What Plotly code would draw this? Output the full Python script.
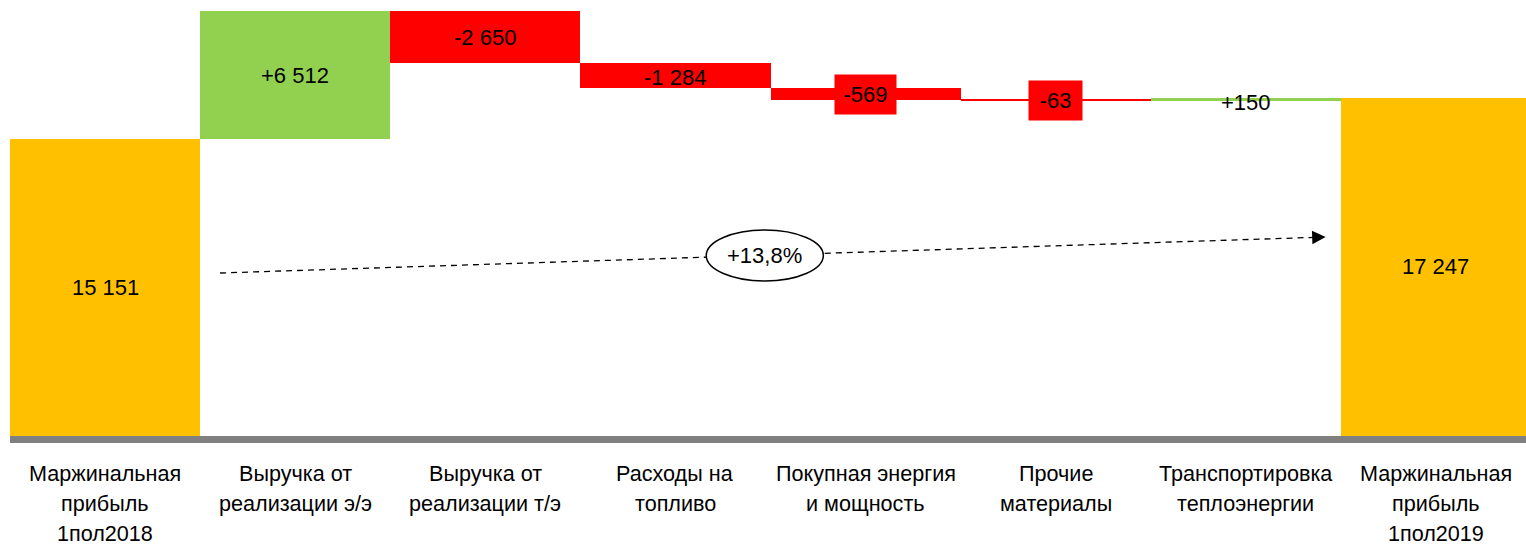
import plotly.graph_objects as go

categories = [
    ["Маржинальная", "прибыль", "1пол2018"],
    ["Выручка от", "реализации э/э"],
    ["Выручка от", "реализации т/э"],
    ["Расходы на", "топливо"],
    ["Покупная энергия", "и мощность"],
    ["Прочие", "материалы"],
    ["Транспортировка", "теплоэнергии"],
    ["Маржинальная", "прибыль", "1пол2019"],
]
values = [15151, 6512, -2650, -1284, -569, -63, 150, 17247]
labels = ["15 151", "+6 512", "-2 650", "-1 284", "-569", "-63", "+150", "17 247"]
is_total = [True, False, False, False, False, False, False, True]
growth_label = "+13,8%"

YELLOW = "#FFC000"
GREEN = "#92D050"
RED = "#FF0000"
FONT = "Liberation Sans Narrow, Arial Narrow, Liberation Sans, Arial, sans-serif"

bases, heights, colors = [], [], []
running = 0
for v, tot in zip(values, is_total):
    if tot:
        bases.append(0)
        heights.append(v)
        colors.append(YELLOW)
        running = v
    else:
        if v >= 0:
            bases.append(running)
            heights.append(v)
            colors.append(GREEN)
        else:
            bases.append(running + v)
            heights.append(-v)
            colors.append(RED)
        running += v

x = list(range(len(categories)))

fig = go.Figure()
fig.add_trace(go.Bar(
    x=x, y=heights, base=bases, width=1.0,
    marker=dict(color=colors, line=dict(width=0)),
    hoverinfo="skip", showlegend=False,
))

k = 297 / 15151          # px per unit
ymin = -7 / k
ymax = 436 / k

annotations = []
for i, (b, h, lab) in enumerate(zip(bases, heights, labels)):
    mid = b + h / 2
    a = dict(x=i, y=mid, text=lab, showarrow=False, xref="x", yref="y",
             font=dict(family=FONT, size=22, color="black"))
    if i in (4, 5):
        a.update(bgcolor=RED, borderpad=0, width=61 if i == 4 else 53, height=39)
    if i == 3:
        a.update(yshift=-2)
    if i == 6:
        a.update(yshift=-3)
    annotations.append(a)

# category labels, one annotation per line
line_centers = [473, 503, 533]
for i, lines in enumerate(categories):
    for j, t in enumerate(lines):
        annotations.append(dict(
            x=i, y=0, xref="x", yref="paper", text=t, showarrow=False,
            yanchor="middle", yshift=-(line_centers[j] - 443),
            font=dict(family=FONT, size=21.6, color="black"),
        ))

# dashed growth arrow
x0a, x1a = 0.605, 6.42
y0a, y1a = (436 - 273) / k, (436 - 237) / k
slope = (y1a - y0a) / (x1a - x0a)
fig.add_trace(go.Scatter(
    x=[x0a, x1a - 0.04], y=[y0a, y1a - 0.04 * slope],
    mode="lines", line=dict(color="black", width=1.3, dash="6px,5px"),
    hoverinfo="skip", showlegend=False,
))
annotations.append(dict(
    x=x1a, y=y1a, ax=x1a - 0.07, ay=y1a - 0.07 * slope,
    xref="x", yref="y", axref="x", ayref="y", showarrow=True,
    arrowhead=2, arrowsize=1.8, arrowwidth=1.5, arrowcolor="black", text="",
))

cx = 3.47
cy = (436 - 255.5) / k
rx = 58.5 / 190
ry = 25.5 / k
shapes = [
    dict(type="rect", xref="paper", yref="y", x0=0, x1=1, y0=ymin, y1=0,
         fillcolor="#808080", line=dict(width=0), layer="above"),
    dict(type="circle", xref="x", yref="y", x0=cx - rx, x1=cx + rx,
         y0=cy - ry, y1=cy + ry, fillcolor="white",
         line=dict(color="black", width=1.5), layer="above"),
]
annotations.append(dict(x=cx, y=cy, text=growth_label, showarrow=False,
                        xref="x", yref="y",
                        font=dict(family=FONT, size=22, color="black")))

fig.update_layout(
    width=1526, height=545,
    margin=dict(l=10, r=0, t=0, b=102, autoexpand=False),
    plot_bgcolor="white", paper_bgcolor="white",
    bargap=0,
    shapes=shapes,
    annotations=annotations,
    xaxis=dict(
        range=[-0.5, 7.5 - 5 / 190], tickmode="array", tickvals=x,
        showticklabels=False, showgrid=False, zeroline=False, showline=False,
        ticks="", automargin=False, fixedrange=True,
    ),
    yaxis=dict(range=[ymin, ymax], visible=False, fixedrange=True,
               automargin=False),
    font=dict(family=FONT),
)

fig.write_html(
    "out.html",
    config={"displayModeBar": False},
    post_script="document.body.style.margin='0';document.body.style.overflow='hidden';",
)
